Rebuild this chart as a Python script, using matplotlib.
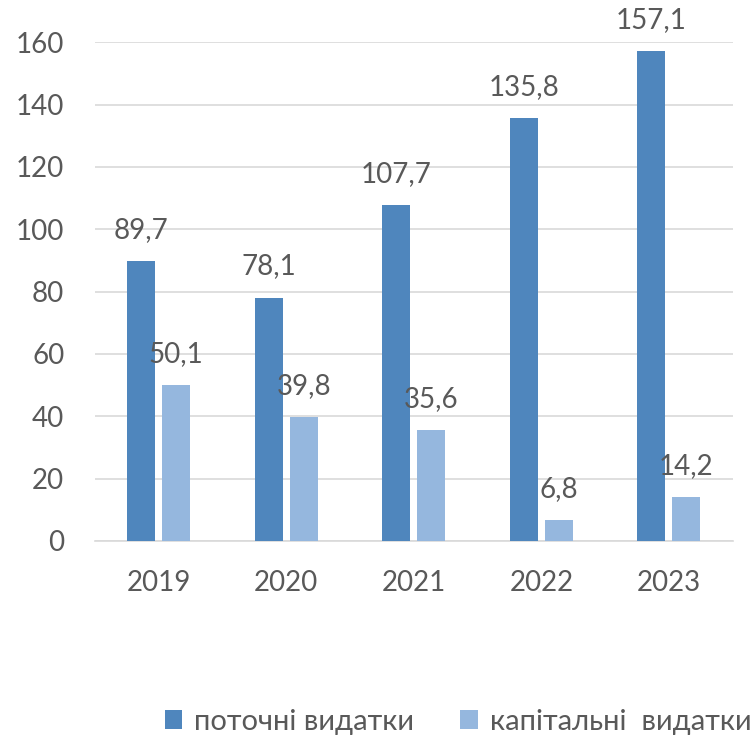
import matplotlib
matplotlib.use("Agg")
import matplotlib.pyplot as plt
import numpy as np

years = ["2019", "2020", "2021", "2022", "2023"]
current = [89.7, 78.1, 107.7, 135.8, 157.1]
capital = [50.1, 39.8, 35.6, 6.8, 14.2]
series_names = ["поточні видатки", "капітальні  видатки"]
yticks = [0, 20, 40, 60, 80, 100, 120, 140, 160]

plt.rcParams['font.family'] = ['Lato', 'DejaVu Sans']
txt = '#595959'
c1, c2 = '#4f86bd', '#95b7de'

fig = plt.figure(figsize=(7.53, 7.41), dpi=100)
ax = fig.add_axes([0.126, 0.270, 0.847, 0.673])
x = np.arange(len(years))
w = 0.22
gap = 0.055
b1 = ax.bar(x - (w + gap) / 2, current, w, color=c1, label=series_names[0], zorder=3)
b2 = ax.bar(x + (w + gap) / 2, capital, w, color=c2, label=series_names[1], zorder=3)

for bars, vals in ((b1, current), (b2, capital)):
    for r, v in zip(bars, vals):
        ax.annotate(f"{v:.1f}".replace('.', ','), (r.get_x() + r.get_width() / 2, v),
                    xytext=(0, 13), textcoords='offset points', ha='center', va='bottom',
                    fontsize=20, color=txt)

ax.set_xlim(-0.5, len(years) - 0.5)
ax.set_ylim(0, 160)
ax.set_yticks(yticks)
ax.set_xticks(x)
ax.set_xticklabels(years)
ax.tick_params(axis='both', length=0, labelsize=20, colors=txt)
ax.tick_params(axis='y', pad=22)
ax.tick_params(axis='x', pad=21)
ax.grid(axis='y', color='#d9d9d9', linewidth=1.2, zorder=0)
for s in ['top', 'right', 'left']:
    ax.spines[s].set_visible(False)
ax.spines['bottom'].set_color('#d9d9d9')
ax.spines['bottom'].set_linewidth(1.2)

fig.legend(handles=[b1, b2], labels=series_names, loc='center', bbox_to_anchor=(0.608, 0.026),
           ncol=2, frameon=False, fontsize=21, labelcolor=txt, handlelength=0.6,
           handleheight=0.6, handletextpad=0.4, columnspacing=1.6)

fig.savefig('out.png', dpi=100)
